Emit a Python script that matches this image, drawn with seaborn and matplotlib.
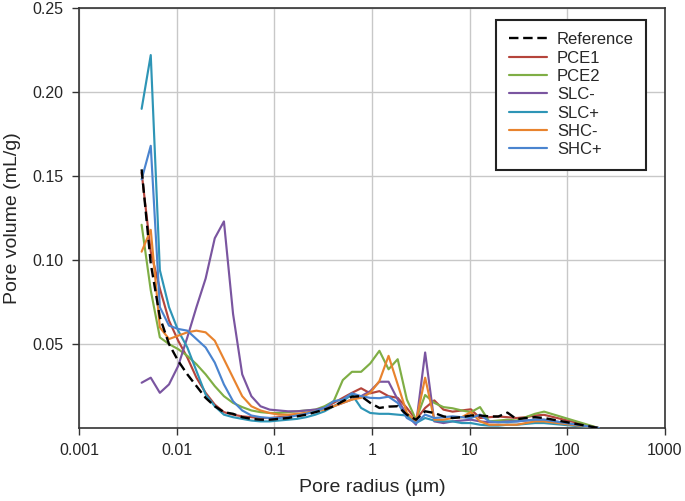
import matplotlib
matplotlib.use("Agg")
import matplotlib.pyplot as plt
import seaborn as sns

# pore radius (um), shared by all series
radius = [0.00438, 0.00543, 0.00673, 0.00835, 0.01037, 0.01286, 0.01595, 0.0198, 0.02456, 0.03048,
          0.0378, 0.0469, 0.0582, 0.0722, 0.0896, 0.1111, 0.1378, 0.171, 0.2122, 0.2633,
          0.3266, 0.4052, 0.5027, 0.6237, 0.7738, 0.96, 1.191, 1.478, 1.833, 2.275,
          2.822, 3.501, 4.344, 5.389, 6.686, 8.295, 10.29, 12.77, 15.84, 19.65,
          24.38, 30.25, 37.53, 46.56, 57.77, 210.7]

# pore volume (mL/g)
reference = [0.154, 0.098, 0.066, 0.050, 0.040, 0.032, 0.025, 0.018, 0.013, 0.0095,
             0.0085, 0.0065, 0.0055, 0.005, 0.005, 0.0055, 0.006, 0.007, 0.008, 0.0095,
             0.011, 0.013, 0.016, 0.0187, 0.019, 0.015, 0.012, 0.0128, 0.013, 0.008,
             0.005, 0.010, 0.009, 0.007, 0.006, 0.0065, 0.0075, 0.0075, 0.007, 0.0069,
             0.0092, 0.0053, 0.006, 0.0065, 0.006, 0.0]
pce1 = [0.152, 0.105, 0.083, 0.064, 0.052, 0.042, 0.030, 0.021, 0.014, 0.0095,
        0.008, 0.007, 0.0065, 0.006, 0.006, 0.0065, 0.007, 0.008, 0.009, 0.0105,
        0.012, 0.015, 0.018, 0.021, 0.0237, 0.0207, 0.022, 0.019, 0.018, 0.012,
        0.005, 0.012, 0.0165, 0.011, 0.0098, 0.0105, 0.0112, 0.006, 0.0065, 0.0069,
        0.0065, 0.006, 0.0065, 0.0075, 0.0079, 0.0]
pce2 = [0.121, 0.082, 0.054, 0.050, 0.047, 0.043, 0.038, 0.032, 0.025, 0.019,
        0.015, 0.0125, 0.0105, 0.0095, 0.009, 0.009, 0.0095, 0.010, 0.0105, 0.011,
        0.013, 0.016, 0.0286, 0.0335, 0.0335, 0.0385, 0.046, 0.035, 0.041, 0.017,
        0.005, 0.0197, 0.015, 0.0125, 0.0118, 0.0105, 0.0095, 0.0125, 0.004, 0.0045,
        0.005, 0.0045, 0.0065, 0.0085, 0.0098, 0.0]
slc_minus = [0.027, 0.030, 0.021, 0.026, 0.037, 0.054, 0.072, 0.089, 0.113, 0.123,
             0.068, 0.032, 0.019, 0.013, 0.011, 0.0105, 0.010, 0.010, 0.0105, 0.011,
             0.012, 0.013, 0.015, 0.017, 0.019, 0.022, 0.0276, 0.0276, 0.017, 0.008,
             0.002, 0.045, 0.004, 0.003, 0.004, 0.0045, 0.005, 0.004, 0.0035, 0.0035,
             0.004, 0.004, 0.0045, 0.005, 0.005, 0.0]
slc_plus = [0.190, 0.222, 0.094, 0.072, 0.058, 0.048, 0.034, 0.020, 0.013, 0.008,
            0.0065, 0.0055, 0.0045, 0.004, 0.004, 0.0045, 0.005, 0.0055, 0.0065, 0.008,
            0.010, 0.013, 0.016, 0.020, 0.012, 0.009, 0.0085, 0.0085, 0.008, 0.0075,
            0.003, 0.006, 0.0045, 0.004, 0.004, 0.003, 0.003, 0.002, 0.0015, 0.0015,
            0.002, 0.002, 0.0025, 0.003, 0.003, 0.0]
shc_minus = [0.105, 0.118, 0.060, 0.053, 0.055, 0.057, 0.058, 0.057, 0.052, 0.041,
             0.030, 0.019, 0.013, 0.0105, 0.009, 0.008, 0.008, 0.0085, 0.009, 0.010,
             0.011, 0.013, 0.015, 0.017, 0.018, 0.021, 0.028, 0.043, 0.026, 0.009,
             0.004, 0.030, 0.005, 0.005, 0.006, 0.0065, 0.0095, 0.004, 0.002, 0.002,
             0.002, 0.002, 0.003, 0.004, 0.004, 0.0]
shc_plus = [0.148, 0.168, 0.072, 0.061, 0.059, 0.058, 0.053, 0.048, 0.039, 0.026,
            0.016, 0.0105, 0.0075, 0.0065, 0.006, 0.006, 0.0065, 0.0075, 0.0085, 0.010,
            0.012, 0.016, 0.017, 0.0207, 0.019, 0.018, 0.0178, 0.0187, 0.015, 0.006,
            0.003, 0.008, 0.006, 0.0065, 0.007, 0.0065, 0.006, 0.008, 0.004, 0.0035,
            0.0035, 0.004, 0.0045, 0.005, 0.005, 0.0]

labels = ["Reference", "PCE1", "PCE2", "SLC-", "SLC+", "SHC-", "SHC+"]
series = [reference, pce1, pce2, slc_minus, slc_plus, shc_minus, shc_plus]
colors = ["black", "#b5443b", "#7fae45", "#7a55a0", "#2e95b6", "#e8832e", "#4a84cf"]

y_ticks = [0.05, 0.10, 0.15, 0.20, 0.25]
x_ticks = [0.001, 0.01, 0.1, 1, 10, 100, 1000]
x_tick_labels = ["0.001", "0.01", "0.1", "1", "10", "100", "1000"]

sns.set_style("white")
plt.rcParams["font.family"] = ["Liberation Sans", "DejaVu Sans"]

fig, ax = plt.subplots(figsize=(6.85, 5.01), dpi=100)
fig.subplots_adjust(left=0.1153, right=0.9708, bottom=0.1455, top=0.984)

# colored lines first, reference dashed on top
for name, vals, col in list(zip(labels, series, colors))[1:]:
    sns.lineplot(x=radius, y=vals, ax=ax, color=col, linewidth=1.55, label=name, zorder=3)
sns.lineplot(x=radius, y=reference, ax=ax, color="black", linewidth=1.7,
             label="Reference", zorder=4)
ax.lines[-1].set_dashes([4, 2])

ax.set_xscale("log")
ax.set_xlim(0.001, 1000)
ax.set_ylim(0, 0.25)
ax.set_xticks(x_ticks)
ax.set_xticklabels(x_tick_labels)
ax.minorticks_off()
ax.set_yticks(y_ticks)
ax.set_yticklabels([f"{v:.2f}" for v in y_ticks])

ax.grid(True, color="#c8c8c8", linewidth=1.0)
ax.set_axisbelow(True)
for sp in ax.spines.values():
    sp.set_visible(True)
    sp.set_color("#333333")
    sp.set_linewidth(1.2)
ax.tick_params(direction="out", length=5, width=1, color="#333333",
               labelsize=11.5, pad=6, left=True, bottom=True)

ax.set_xlabel("Pore radius (µm)", fontsize=14, labelpad=15)
ax.set_ylabel("Pore volume (mL/g)", fontsize=14, labelpad=8)

# legend in original order
handles, names = ax.get_legend_handles_labels()
lookup = dict(zip(names, handles))
leg = ax.legend([lookup[n] for n in labels], labels, loc="upper right",
                bbox_to_anchor=(0.968, 0.972), borderaxespad=0, frameon=True,
                fancybox=False, edgecolor="#222222", framealpha=1, fontsize=12,
                handlelength=2.3, handletextpad=0.6, labelspacing=0.2, borderpad=0.75)
leg.get_frame().set_linewidth(1.5)

fig.savefig("out.png", dpi=100)
